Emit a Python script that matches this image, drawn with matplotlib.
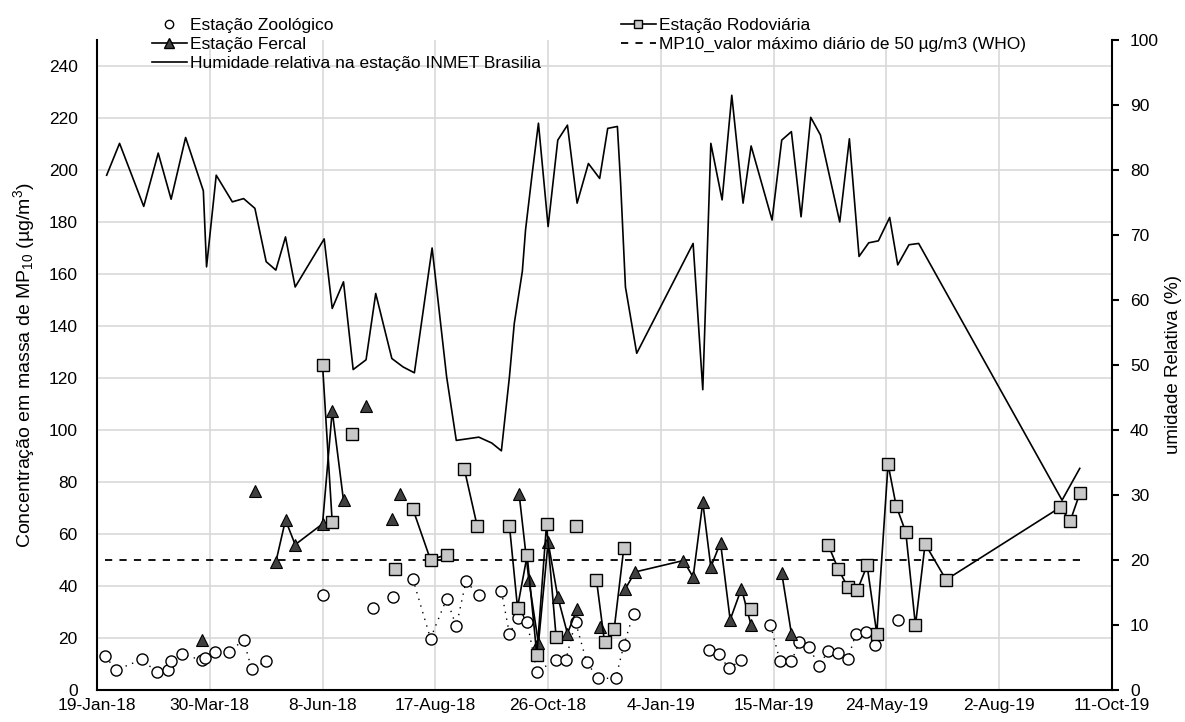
import numpy as np
import pandas as pd
import matplotlib
matplotlib.use("Agg")
import matplotlib.pyplot as plt
from matplotlib.lines import Line2D

plt.rcParams['font.family'] = ['Liberation Sans', 'DejaVu Sans']
plt.rcParams['mathtext.fontset'] = 'custom'
plt.rcParams['mathtext.rm'] = 'Liberation Sans'
plt.rcParams['mathtext.it'] = 'Liberation Sans:italic'

# ---------------- data ----------------
# None marks a gap in a measurement series (the connecting line is broken there)
zoo_dates = ['2018-01-24', '2018-01-31', '2018-02-16', '2018-02-25', '2018-03-04', '2018-03-06',
             '2018-03-13', '2018-03-25', '2018-03-27', '2018-04-02', '2018-04-11', '2018-04-20',
             '2018-04-25', '2018-05-04', None, '2018-06-08', None, '2018-07-09', None, '2018-07-22',
             None, '2018-08-03', '2018-08-14', '2018-08-24', '2018-08-30', '2018-09-05', '2018-09-13',
             None, '2018-09-27', '2018-10-02', '2018-10-07', '2018-10-13', '2018-10-19', '2018-10-31',
             '2018-11-06', '2018-11-12', '2018-11-19', '2018-11-26', '2018-12-07', '2018-12-12',
             '2018-12-18', None, '2019-02-03', '2019-02-09', '2019-02-15', '2019-02-23', None,
             '2019-03-13', '2019-03-19', '2019-03-26', '2019-03-31', '2019-04-06', '2019-04-12',
             '2019-04-18', '2019-04-24', '2019-04-30', '2019-05-05', '2019-05-11', '2019-05-17',
             None, '2019-05-31']
zoo_vals = [13.0, 7.7, 11.8, 6.8, 7.7, 11.2, 13.7, 11.5, 12.5, 14.7, 14.7, 19.2, 8.0, 11.1, None,
            36.7, None, 31.7, None, 35.8, None, 42.8, 19.8, 35.1, 24.5, 41.8, 36.4, None, 38.0,
            21.6, 27.6, 26.2, 7.0, 11.7, 11.7, 26.2, 10.6, 4.5, 4.5, 17.3, 29.4, None, 15.3, 14.0,
            8.3, 11.5, None, 25.0, 11.0, 11.0, 18.5, 16.4, 9.4, 15.0, 14.4, 11.8, 21.6, 22.2, 17.4,
            None, 27.1]

fercal_dates = ['2018-03-25', None, '2018-04-27', None, '2018-05-10', '2018-05-16', '2018-05-22',
                '2018-06-08', '2018-06-14', '2018-06-21', None, '2018-07-05', None, '2018-07-21',
                None, '2018-07-26', None, '2018-10-08', '2018-10-14', '2018-10-20', '2018-10-26',
                '2018-11-01', '2018-11-07', '2018-11-13', None, '2018-11-27', None, '2018-12-13',
                '2018-12-19', '2019-01-18', '2019-01-24', '2019-01-30', '2019-02-04', '2019-02-10',
                '2019-02-16', '2019-02-23', '2019-03-01', None, '2019-03-20', '2019-03-26']
fercal_vals = [19.2, None, 76.7, None, 49.2, 65.4, 55.9, 63.9, 107.4, 72.9, None, 109.3, None, 65.8,
               None, 75.2, None, 75.4, 42.5, 17.9, 56.9, 35.8, 21.7, 31.3, None, 24.4, None, 39.0,
               45.4, 49.8, 43.4, 72.2, 47.3, 56.7, 27.0, 39.0, 24.9, None, 45.0, 21.7]

rodo_dates = ['2018-06-08', '2018-06-14', None, '2018-06-26', None, '2018-07-23', None, '2018-08-03',
              '2018-08-14', '2018-08-24', None, '2018-09-04', '2018-09-12', None, '2018-10-02',
              '2018-10-07', '2018-10-13', '2018-10-19', '2018-10-25', '2018-10-31', None,
              '2018-11-12', None, '2018-11-25', '2018-11-30', '2018-12-06', '2018-12-12', None,
              '2019-03-01', None, '2019-04-18', '2019-04-24', '2019-04-30', '2019-05-06',
              '2019-05-12', '2019-05-18', '2019-05-25', '2019-05-30', '2019-06-05', '2019-06-11',
              '2019-06-17', '2019-06-30', '2019-09-09', '2019-09-15', '2019-09-21']
rodo_vals = [125.0, 64.5, None, 98.4, None, 46.6, None, 69.7, 50.1, 52.0, None, 85.0, 63.0, None,
             63.2, 31.7, 51.8, 13.4, 63.7, 20.2, None, 63.2, None, 42.4, 18.5, 23.4, 54.7, None,
             31.3, None, 55.6, 46.6, 39.6, 38.5, 47.9, 21.7, 86.9, 70.9, 60.7, 24.9, 56.2, 42.4,
             70.3, 64.9, 75.6]

hum_dates = ['2018-01-25', '2018-02-02', '2018-02-17', '2018-02-26', '2018-03-06', '2018-03-15',
             '2018-03-26', '2018-03-28', '2018-04-03', '2018-04-13', '2018-04-20', '2018-04-27',
             '2018-05-04', '2018-05-10', '2018-05-16', '2018-05-22', '2018-06-09', '2018-06-14',
             '2018-06-21', '2018-06-27', '2018-07-05', '2018-07-11', '2018-07-21', '2018-07-28',
             '2018-08-04', '2018-08-15', '2018-08-24', '2018-08-30', '2018-09-13', '2018-09-21',
             '2018-09-27', '2018-10-02', '2018-10-05', '2018-10-10', '2018-10-12', '2018-10-16',
             '2018-10-20', '2018-10-26', '2018-11-01', '2018-11-07', '2018-11-13', '2018-11-20',
             '2018-11-27', '2018-12-02', '2018-12-08', '2018-12-10', '2018-12-13', '2018-12-20',
             '2019-01-24', '2019-01-30', '2019-02-04', '2019-02-11', '2019-02-17', '2019-02-24',
             '2019-03-01', '2019-03-14', '2019-03-20', '2019-03-26', '2019-04-01', '2019-04-07',
             '2019-04-13', '2019-04-25', '2019-05-01', '2019-05-07', '2019-05-13', '2019-05-19',
             '2019-05-26', '2019-05-31', '2019-06-07', '2019-06-13', '2019-09-10', '2019-09-21']
hum_vals = [79.2, 84.1, 74.4, 82.6, 75.5, 85.0, 76.8, 65.1, 79.2, 75.1, 75.6, 74.1, 65.9, 64.6,
            69.7, 62.0, 69.4, 58.7, 62.8, 49.3, 50.8, 61.0, 51.0, 49.7, 48.8, 68.0, 48.2, 38.4,
            38.9, 38.0, 36.8, 48.2, 56.4, 64.4, 70.8, 79.2, 87.2, 71.3, 84.6, 86.9, 74.9, 81.0,
            78.7, 86.4, 86.7, 78.0, 62.0, 51.8, 68.7, 46.2, 84.1, 75.4, 91.5, 74.9, 83.7, 72.3,
            84.6, 85.9, 72.8, 88.1, 85.4, 72.0, 84.8, 66.7, 68.8, 69.1, 72.7, 65.4, 68.5, 68.7,
            29.2, 34.1]

who_dates = ['2018-01-24', '2019-09-23']
who_vals = [50, 50]

x_ticks = ['2018-01-19', '2018-03-30', '2018-06-08', '2018-08-17', '2018-10-26', '2019-01-04',
           '2019-03-15', '2019-05-24', '2019-08-02', '2019-10-11']
x_labels = ['19-Jan-18', '30-Mar-18', '8-Jun-18', '17-Aug-18', '26-Oct-18', '4-Jan-19',
            '15-Mar-19', '24-May-19', '2-Aug-19', '11-Oct-19']
left_ticks = list(range(0, 241, 20))
right_ticks = list(range(0, 101, 10))


def segments(dates, vals):
    segs, cur_d, cur_v = [], [], []
    for d, v in zip(dates, vals):
        if v is None:
            if cur_d:
                segs.append((pd.to_datetime(cur_d), cur_v))
            cur_d, cur_v = [], []
        else:
            cur_d.append(d)
            cur_v.append(v)
    if cur_d:
        segs.append((pd.to_datetime(cur_d), cur_v))
    return segs


# ---------------- figure ----------------
W, H = 1185, 722
fig = plt.figure(figsize=(W / 100, H / 100), dpi=100)
ax = fig.add_axes([97 / W, 32 / H, (1112 - 97) / W, 650 / H])
ax2 = ax.twinx()

FS = 12.5
FL = 12.5
grid_c = '#d9d9d9'

# WHO limit
ax.plot(pd.to_datetime(who_dates), who_vals, color='black', lw=1.3, ls=(0, (4, 4)), zorder=3)

# Zoologico
for d, v in segments(zoo_dates, zoo_vals):
    ax.plot(d, v, color='black', lw=1.0, ls=(0, (1, 4)),
            marker='o', ms=8, mfc='white', mec='black', mew=1.0, zorder=4)

# Fercal
for d, v in segments(fercal_dates, fercal_vals):
    ax.plot(d, v, color='black', lw=1.2, marker='^', ms=9, mfc='#404040', mec='black',
            mew=0.8, zorder=5)

# Rodoviaria
for d, v in segments(rodo_dates, rodo_vals):
    ax.plot(d, v, color='black', lw=1.2, marker='s', ms=9, mfc='#c8c8c8', mec='black',
            mew=1.0, zorder=6)

# humidity
ax2.plot(pd.to_datetime(hum_dates), hum_vals, color='black', lw=1.2, zorder=3)

# axes styling
xt = pd.to_datetime(x_ticks)
ax.set_xlim(xt[0], xt[-1])
ax.set_xticks(xt)
ax.set_xticklabels(x_labels, fontsize=FS)
ax.set_ylim(0, 250)
ax.set_yticks(left_ticks)
ax.set_yticklabels([str(t) for t in left_ticks], fontsize=FS)
ax.tick_params(axis='x', length=0, pad=6)
ax.tick_params(axis='y', length=0, pad=14)
ax.grid(True, color=grid_c, lw=1.2, zorder=0)
ax.set_axisbelow(True)
ax.spines['top'].set_visible(False)
ax.spines['right'].set_visible(False)
ax.spines['left'].set_linewidth(1.5)
ax.spines['bottom'].set_linewidth(1.5)

ax2.set_ylim(0, 100)
ax2.set_yticks(right_ticks)
ax2.set_yticklabels([str(t) for t in right_ticks], fontsize=FS)
ax2.tick_params(axis='y', length=5, width=1.5, pad=8, direction='out')
ax2.spines['top'].set_visible(False)
ax2.spines['left'].set_visible(False)
ax2.spines['bottom'].set_visible(False)
ax2.spines['right'].set_linewidth(1.5)

ax.set_ylabel(r'Concentração em massa de MP$_{10}$ (µg/m$^{3}$)', fontsize=14, labelpad=8)
ax2.set_ylabel('umidade Relativa (%)', fontsize=13.5, labelpad=4)

# legend
h_zoo = Line2D([], [], ls='none', marker='o', ms=6, mfc='white', mec='black')
h_fer = Line2D([], [], color='black', lw=1.2, marker='^', ms=7, mfc='#404040', mec='black')
h_hum = Line2D([], [], color='black', lw=1.2)
h_rod = Line2D([], [], color='black', lw=1.2, marker='s', ms=6, mfc='#c8c8c8', mec='black')
h_who = Line2D([], [], color='black', lw=1.3, ls=(0, (4, 4)))
handles = [h_zoo, h_fer, h_hum, h_rod, h_who]
labels = ['Estação Zoológico', 'Estação Fercal', 'Humidade relativa na estação INMET Brasilia',
          'Estação Rodoviária', 'MP10_valor máximo diário de 50 µg/m3 (WHO)']
fig.legend(handles, labels, ncol=2, loc='upper left', bbox_to_anchor=(152 / W, 1 - 18 / H),
           frameon=False, fontsize=FL, handlelength=2.0, handletextpad=0.2,
           columnspacing=4.6, labelspacing=0.22, borderpad=0, borderaxespad=0)

fig.savefig('out.png', dpi=100)
